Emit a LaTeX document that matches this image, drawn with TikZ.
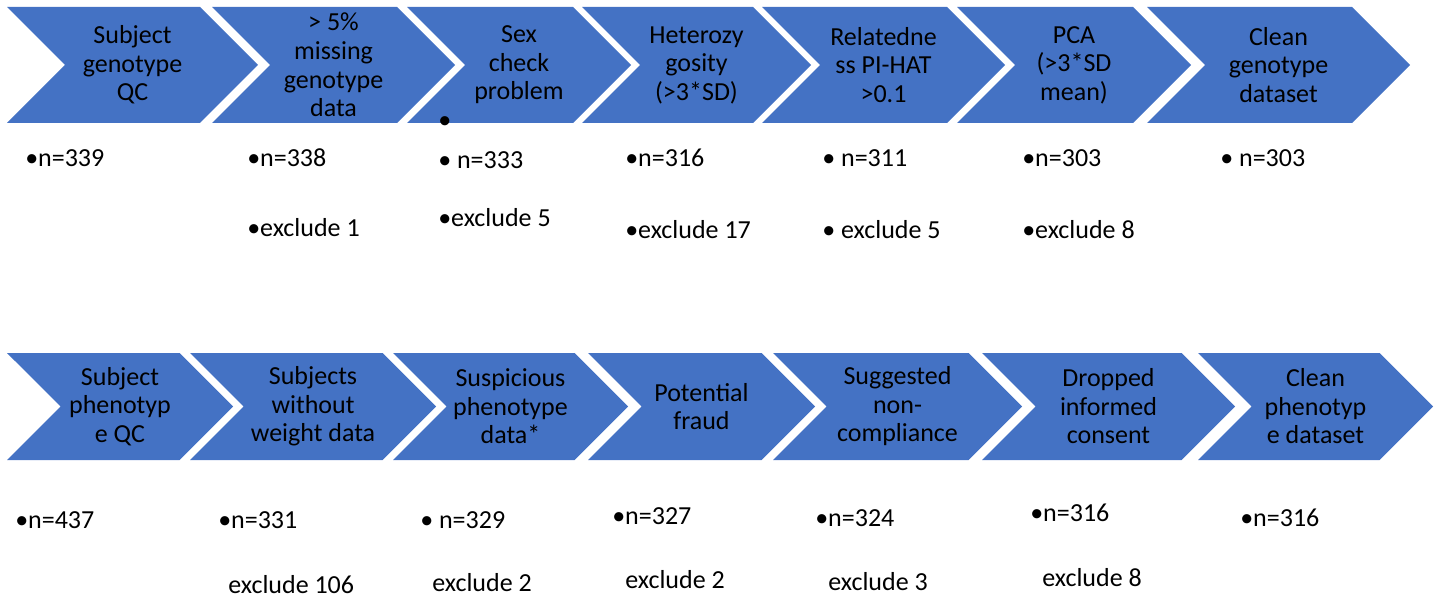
\documentclass[tikz,border=0pt]{standalone}
\usepackage{fontspec}
\setmainfont{Carlito}
\usetikzlibrary{shapes.symbols}
\definecolor{qcblue}{HTML}{4472C4}

\begin{document}
\begin{tikzpicture}[x=0.75pt,y=-0.75pt]

    \tikzset{chevron/.style={shape=signal,signal from=west,signal to=east,fill=qcblue,draw=none,inner sep=0pt,align=center,font=\fontsize{19.5}{21.4}\selectfont}}
    \tikzset{genorow/.style={chevron,minimum height=87pt}}
    \tikzset{phenorow/.style={chevron,minimum height=80.25pt}}
    \tikzset{count/.style={anchor=west,inner sep=0pt,font=\fontsize{19.5}{21.4}\selectfont}}
    \useasboundingbox (0,0) rectangle (1444,598);

    % genotype QC
    \node[genorow,minimum width=188.25pt] (g1) at (132.5,65) {Subject\\genotype\\QC};
    \node[genorow,minimum width=182.25pt] (g2) at (333.5,65) {> 5\%\\missing\\genotype\\data};
    \node[genorow,minimum width=168pt] (g3) at (519,65) {Sex\\check\\problem};
    \node[genorow,minimum width=171.75pt] (g4) at (696.5,65) {Heterozy\\gosity\\(>3*SD)};
    \node[genorow,minimum width=182.25pt] (g5) at (883.5,65) {Relatedne\\ss PI-HAT\\>0.1};
    \node[genorow,minimum width=175.5pt] (g6) at (1074,65) {PCA\\(>3*SD\\mean)};
    \node[genorow,minimum width=197.25pt] (g7) at (1278.5,65) {Clean\\genotype\\dataset};

    \node[count] (gn1) at (25,158) {•n=339};
    \node[count] (gn2) at (247,158) {•n=338};
    \node[count] (gx2) at (247,228) {•exclude 1};
    \node[count] (gdot3) at (438,123) {•};
    \node[count] (gn3) at (438,160) {• n=333};
    \node[count] (gx3) at (438,218) {•exclude 5};
    \node[count] (gn4) at (625,158) {•n=316};
    \node[count] (gx4) at (625,230) {•exclude 17};
    \node[count] (gn5) at (822,158) {• n=311};
    \node[count] (gx5) at (822,230) {• exclude 5};
    \node[count] (gn6) at (1022,158) {•n=303};
    \node[count] (gx6) at (1022,230) {•exclude 8};
    \node[count] (gn7) at (1220,158) {• n=303};

    % phenotype QC
    \node[phenorow,minimum width=169.5pt] (p1) at (120,406.5) {Subject\\phenotyp\\e QC};
    \node[phenorow,minimum width=184.5pt] (p2) at (313,406.5) {Subjects\\without\\weight data};
    \node[phenorow,minimum width=176.25pt] (p3) at (510.5,406.5) {Suspicious\\phenotype\\data*};
    \node[phenorow,minimum width=170.25pt] (p4) at (701.5,406.5) {Potential\\fraud};
    \node[phenorow,minimum width=186.75pt] (p5) at (897.5,406.5) {Suggested\\non-\\compliance};
    \node[phenorow,minimum width=189.75pt] (p6) at (1108.5,406.5) {Dropped\\informed\\consent};
    \node[phenorow,minimum width=176.25pt] (p7) at (1315.5,406.5) {Clean\\phenotyp\\e dataset};

    \node[count] (pn1) at (15,520) {•n=437};
    \node[count] (pn2) at (218,520) {•n=331};
    \node[count] (px2) at (228,585) {exclude 106};
    \node[count] (pn3) at (420,520) {• n=329};
    \node[count] (px3) at (432,583) {exclude 2};
    \node[count] (pn4) at (612,516) {•n=327};
    \node[count] (px4) at (625,580) {exclude 2};
    \node[count] (pn5) at (815,518) {•n=324};
    \node[count] (px5) at (828,582) {exclude 3};
    \node[count] (pn6) at (1030,513) {•n=316};
    \node[count] (px6) at (1042,578) {exclude 8};
    \node[count] (pn7) at (1240,518) {•n=316};
  \end{tikzpicture}
\end{document}
